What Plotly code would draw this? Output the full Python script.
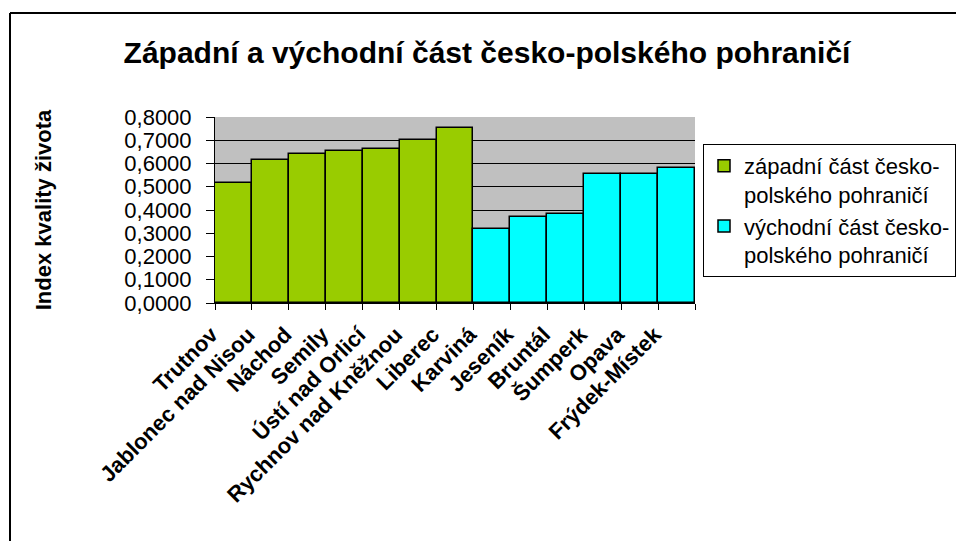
import plotly.graph_objects as go

# Index kvality života by district, western and eastern part of the border region
west_districts = ["Trutnov", "Jablonec nad Nisou", "Náchod", "Semily",
                  "Ústí nad Orlicí", "Rychnov nad Kněžnou", "Liberec"]
west_values = [0.518, 0.615, 0.642, 0.654, 0.661, 0.700, 0.751]

east_districts = ["Karviná", "Jeseník", "Bruntál", "Šumperk", "Opava", "Frýdek-Místek"]
east_values = [0.318, 0.368, 0.382, 0.556, 0.556, 0.582]

y_ticks = [0.0, 0.1, 0.2, 0.3, 0.4, 0.5, 0.6, 0.7, 0.8]
y_tick_labels = ["0,0000", "0,1000", "0,2000", "0,3000", "0,4000",
                 "0,5000", "0,6000", "0,7000", "0,8000"]

W, H = 956, 541
ML, MR, MT, MB = 215, 261, 117, 238

FONT = "Arial, Liberation Sans, sans-serif"

fig = go.Figure()
fig.add_trace(go.Bar(
    x=west_districts, y=west_values,
    name="západní část česko-<br>polského pohraničí",
    marker=dict(color="#99CC00", line=dict(color="black", width=1.5)),
))
fig.add_trace(go.Bar(
    x=east_districts, y=east_values,
    name="východní část česko-<br>polského pohraničí",
    marker=dict(color="#00FFFF", line=dict(color="black", width=1.5)),
))

fig.update_layout(
    width=W, height=H,
    margin=dict(l=ML, r=MR, t=MT, b=MB, pad=0, autoexpand=False),
    paper_bgcolor="white",
    plot_bgcolor="#C0C0C0",
    barmode="overlay",
    bargap=0,
    font=dict(family=FONT, color="black"),
    title=dict(
        text="<b>Západní a východní část česko-polského pohraničí</b>",
        font=dict(size=30, family=FONT),
        xref="container", x=487 / W, xanchor="center",
        yref="container", y=1 - 52 / H, yanchor="middle",
    ),
    legend=dict(
        xref="container", yref="container",
        x=703 / W, y=1 - 144 / H, xanchor="left", yanchor="top",
        bgcolor="white", bordercolor="black", borderwidth=1,
        font=dict(size=22, family=FONT),
        itemwidth=30, tracegroupgap=4, valign="top",
    ),
    showlegend=True,
)

fig.update_xaxes(
    categoryorder="array", categoryarray=west_districts + east_districts,
    tickangle=-45, tickson="boundaries",
    ticks="outside", ticklen=6, tickcolor="black", tickwidth=1,
    tickfont=dict(size=22, family=FONT, weight="bold"),
    ticklabelstandoff=9, ticklabelshift=-22,
    showline=True, linecolor="black", linewidth=1,
    showgrid=False, mirror=False, automargin=False,
)
fig.update_yaxes(
    range=[0, 0.8], tickvals=y_ticks, ticktext=y_tick_labels,
    ticks="outside", ticklen=8, tickcolor="black", tickwidth=1,
    tickfont=dict(size=22, family=FONT),
    ticklabelstandoff=10,
    showline=True, linecolor="black", linewidth=1,
    showgrid=True, gridcolor="black", gridwidth=1,
    zeroline=False, automargin=False,
    title=dict(text="<b>Index kvality života</b>", font=dict(size=22, family=FONT),
               standoff=66),
)

# Outer chart frame: left and top edges of the surrounding box
fig.add_shape(type="line", xref="paper", yref="paper",
              x0=(10 - ML) / (W - ML - MR), x1=(10 - ML) / (W - ML - MR),
              y0=(H - MB - 13) / (H - MT - MB), y1=(H - MB - H - 20) / (H - MT - MB),
              line=dict(color="black", width=2), layer="below")
fig.add_shape(type="line", xref="paper", yref="paper",
              x0=(10 - ML) / (W - ML - MR), x1=(W + 20 - ML) / (W - ML - MR),
              y0=(H - MB - 13) / (H - MT - MB), y1=(H - MB - 13) / (H - MT - MB),
              line=dict(color="black", width=2), layer="below")

fig.write_html("out.html")
